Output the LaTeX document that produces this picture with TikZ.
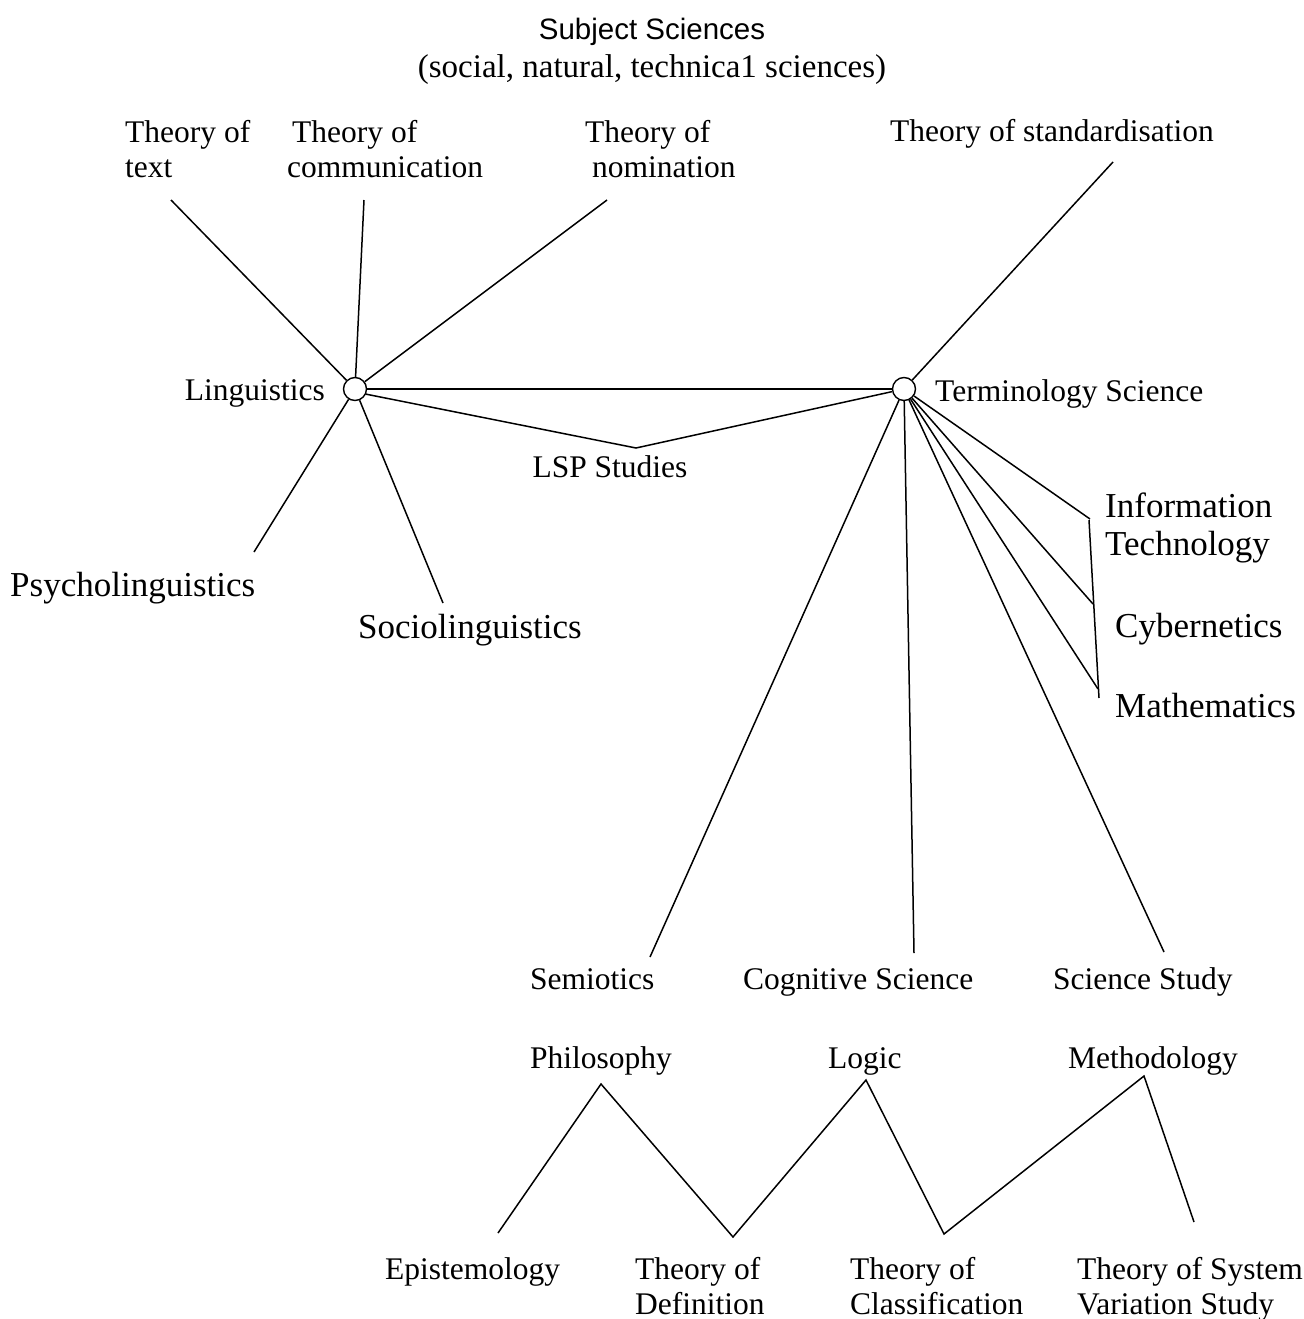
\documentclass[tikz,border=0pt]{standalone}
\usepackage{fontspec}
\setmainfont{Liberation Serif}
\newfontfamily\sansf{Liberation Sans}
\begin{document}
\begin{tikzpicture}[x=1pt,y=-1pt,
  lbl/.style={inner sep=0pt,anchor=base west,font=\fontsize{31.5}{35}\selectfont,align=left},
  big/.style={inner sep=0pt,anchor=base west,font=\fontsize{35}{38}\selectfont,align=left},
  hub/.style={circle,draw,line width=1.4pt,minimum size=23pt,inner sep=0pt},
  conn/.style={line width=1.5pt}]
\useasboundingbox (0,0) rectangle (1303,1319);
% titles
\node[inner sep=0pt,anchor=base,font=\sansf\fontsize{29.5}{33}\selectfont] (title) at (652,40) {Subject Sciences};
\node[inner sep=0pt,anchor=base,font=\fontsize{33}{36}\selectfont] (subtitle) at (652,78) {(social, natural, technica1 sciences)};
% hubs
\node[hub] (lc) at (355,389) {};
\node[hub] (tc) at (904,389) {};
% labels (multi-line nodes: base = baseline of last line)
\node[lbl] (ttext) at (125,177) {Theory of\\text};
\node[lbl] (tcomm) at (287,177) {\hspace{5pt}Theory of\\communication};
\node[lbl] (tnom) at (585,177) {Theory of\\\hspace{7pt}nomination};
\node[lbl] (tstd) at (890,142) {Theory of standardisation};
\node[lbl,anchor=base east] (ling) at (325,400) {Linguistics};
\node[lbl] (term) at (935,401) {Terminology Science};
\node[lbl,anchor=base] (lsp) at (610,477) {LSP Studies};
\node[big] (psy) at (10,596) {Psycholinguistics};
\node[big] (soc) at (358,638) {Sociolinguistics};
\node[big] (info) at (1105,555) {Information\\Technology};
\node[big] (cyb) at (1115,637) {Cybernetics};
\node[big] (math) at (1115,717) {Mathematics};
\node[lbl] (sem) at (530,989) {Semiotics};
\node[lbl] (cog) at (743,989) {Cognitive Science};
\node[lbl] (ss) at (1053,989) {Science Study};
\node[lbl] (phil) at (530,1068) {Philosophy};
\node[lbl] (logic) at (828,1068) {Logic};
\node[lbl] (meth) at (1068,1068) {Methodology};
\node[lbl] (epi) at (385,1279) {Epistemology};
\node[lbl] (tdef) at (635,1314) {Theory of\\Definition};
\node[lbl] (tcl) at (850,1314) {Theory of\\Classification};
\node[lbl] (tsys) at (1077,1314) {Theory of System\\Variation Study};
% free line ends
\coordinate (eText) at (171,200);
\coordinate (eComm) at (364,200);
\coordinate (eNom) at (607,200);
\coordinate (eStd) at (1113,162);
\coordinate (eLsp) at (636,448);
\coordinate (ePsy) at (254,552);
\coordinate (eSoc) at (443,603);
\coordinate (eSem) at (650,957);
\coordinate (eCog) at (914,953);
\coordinate (eSs) at (1164,952);
\coordinate (eInfo) at (1090,519);
\coordinate (eCyb) at (1093,604);
\coordinate (eMath) at (1098,689);
\coordinate (vTop) at (1089,520);
\coordinate (vBot) at (1099,698);
\coordinate (zEpi) at (498,1233);
\coordinate (zPhil) at (601,1084);
\coordinate (zDef) at (733,1237);
\coordinate (zLog) at (866,1080);
\coordinate (zCl) at (944,1234);
\coordinate (zMeth) at (1144,1076);
\coordinate (zSys) at (1194,1222);
% connectors
\draw[conn] (lc) -- (eText);
\draw[conn] (lc) -- (eComm);
\draw[conn] (lc) -- (eNom);
\draw[conn] (lc) -- (tc);
\draw[conn] (lc.-25) -- (eLsp) -- (tc);
\draw[conn] (lc) -- (ePsy);
\draw[conn] (lc) -- (eSoc);
\draw[conn] (tc) -- (eStd);
\draw[conn] (tc) -- (eSem);
\draw[conn] (tc) -- (eCog);
\draw[conn] (tc) -- (eSs);
\draw[conn] (tc) -- (eInfo);
\draw[conn] (tc) -- (eCyb);
\draw[conn] (tc) -- (eMath);
\draw[conn] (vTop) -- (vBot);
\draw[conn] (zEpi) -- (zPhil) -- (zDef) -- (zLog) -- (zCl) -- (zMeth) -- (zSys);
\end{tikzpicture}
\end{document}
